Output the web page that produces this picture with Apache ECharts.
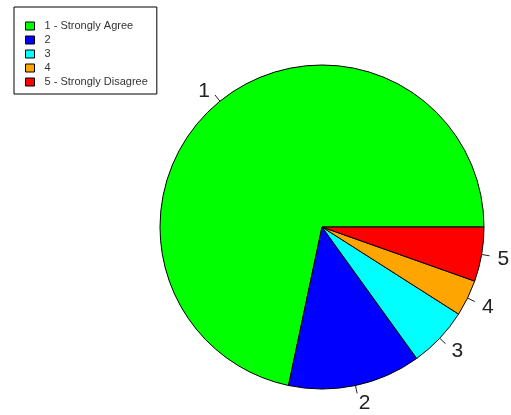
<!DOCTYPE html>
<html>
<head>
<meta charset="utf-8">
<script src="https://cdn.jsdelivr.net/npm/echarts@6/dist/echarts.min.js"></script>
<style>
html,body{margin:0;padding:0;background:#fff;}
#c{width:511px;height:415px;}
</style>
</head>
<body>
<div id="c"></div>
<script>
var categories = ['1 - Strongly Agree', '2', '3', '4', '5 - Strongly Disagree'];
var sliceLabels = ['1', '2', '3', '4', '5'];
var values = [119, 22, 10, 6, 9];
var colors = ['#00FF00', '#0000FF', '#00FFFF', '#FFA500', '#FF0000'];

var chart = echarts.init(document.getElementById('c'), null, {renderer: 'canvas'});
var total = values.reduce(function (a, b) { return a + b; }, 0);
var gap = 8;
var cum = 0;
var data = categories.map(function (n, i) {
  var mid = (cum + values[i] / 2) / total * 2 * Math.PI;
  cum += values[i];
  return {
    name: n,
    value: values[i],
    itemStyle: {color: colors[i]},
    label: {offset: [gap * Math.cos(mid), -gap * Math.sin(mid) + 2]}
  };
});
var font = 'Liberation Sans, Arial, sans-serif';
chart.setOption({
  animation: false,
  backgroundColor: '#fff',
  legend: {
    orient: 'vertical',
    left: 14,
    top: 7,
    data: categories,
    icon: 'rect',
    itemWidth: 9,
    itemHeight: 8,
    itemGap: 2,
    padding: [13, 9, 6, 11],
    borderColor: '#000',
    borderWidth: 1,
    selectedMode: false,
    textStyle: {fontFamily: font, fontSize: 11, color: '#333', lineHeight: 12, padding: [0, 0, 0, 5]},
    itemStyle: {borderColor: '#000', borderWidth: 1}
  },
  series: [{
    type: 'pie',
    center: [322, 227],
    radius: 162,
    startAngle: 0,
    clockwise: false,
    avoidLabelOverlap: false,
    silent: true,
    data: data,
    itemStyle: {borderColor: '#000', borderWidth: 1},
    label: {
      show: true,
      position: 'outside',
      formatter: function (p) { return sliceLabels[p.dataIndex]; },
      fontFamily: font,
      fontSize: 21,
      color: '#222',
      distanceToLabelLine: 0
    },
    labelLine: {show: true, length: 8, length2: 0, lineStyle: {color: '#222', width: 1}},
    emphasis: {disabled: true}
  }]
});
</script>
</body>
</html>
